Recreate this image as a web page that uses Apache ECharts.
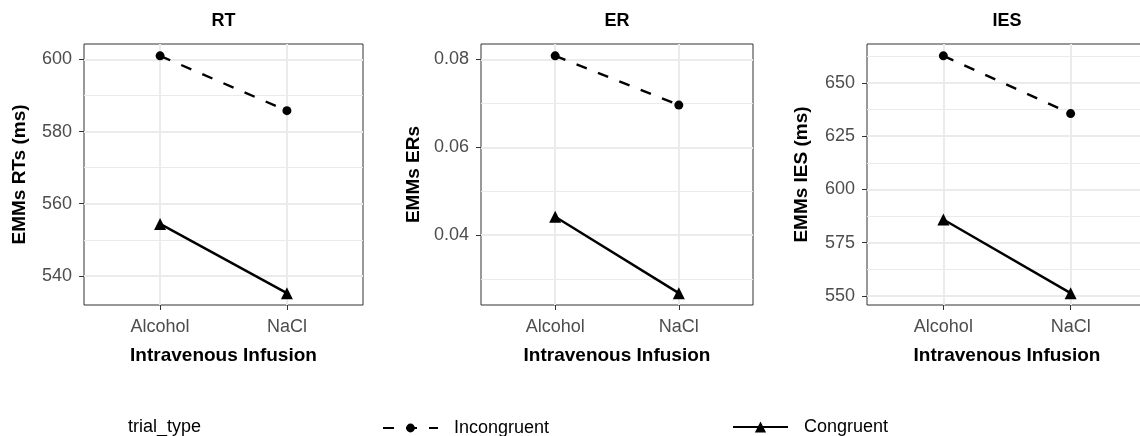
<!DOCTYPE html>
<html><head><meta charset="utf-8">
<script src="https://cdn.jsdelivr.net/npm/echarts@6/dist/echarts.min.js"></script>
<style>html,body{margin:0;padding:0;background:#fff;overflow:hidden;width:1140px;height:436px}#c{width:1160px;height:436px}</style>
</head><body><div id="c"></div>
<script>
// ---- data ----
const categories = ['Alcohol', 'NaCl'];
const panelTitles = ['RT', 'ER', 'IES'];
const yTitles = ['EMMs RTs (ms)', 'EMMs ERs', 'EMMs IES (ms)'];
const seriesNames = ['Incongruent', 'Congruent'];
const incongruentRT = [601.0, 585.8];
const congruentRT = [554.4, 535.2];
const incongruentER = [0.0808, 0.0696];
const congruentER = [0.0442, 0.0268];
const incongruentIES = [662.7, 635.6];
const congruentIES = [585.9, 551.3];
const majorTicksRT = [540, 560, 580, 600];
const minorTicksRT = [550, 570, 590];
const majorTicksER = [0.04, 0.06, 0.08];
const minorTicksER = [0.03, 0.05, 0.07];
const majorTicksIES = [550, 575, 600, 625, 650];
const minorTicksIES = [562.5, 587.5, 612.5, 637.5, 662.5];
const legendTitle = 'trial_type';
const xTitle = 'Intravenous Infusion';

// ---- layout ----
const FONT = "'Liberation Sans', Arial, Helvetica, sans-serif";
const gridLeft = [84, 481, 867];
const gridWidth = [279, 272, 280];
const gridTop = 44, gridHeight = 261;
const yNameGap = [55, 58, 56];
const decimals = [0, 2, 0];

const panels = [
  {inc: incongruentRT, con: congruentRT, major: majorTicksRT, minor: minorTicksRT},
  {inc: incongruentER, con: congruentER, major: majorTicksER, minor: minorTicksER},
  {inc: incongruentIES, con: congruentIES, major: majorTicksIES, minor: minorTicksIES}
];

function ext(p) {
  const all = p.inc.concat(p.con);
  const lo = Math.min.apply(null, all), hi = Math.max.apply(null, all);
  const pad = (hi - lo) * 0.05;
  return [lo - pad, hi + pad];
}

const grid = [], xAxis = [], yAxis = [], series = [], graphic = [];
panels.forEach((p, i) => {
  const [lo, hi] = ext(p);
  grid.push({left: gridLeft[i], width: gridWidth[i], top: gridTop, height: gridHeight,
    show: true, borderColor: '#333333', borderWidth: 1, backgroundColor: '#fff'});
  xAxis.push({
    type: 'value', gridIndex: i, min: 0.4, max: 2.6,
    axisLine: {show: false},
    axisTick: {show: true, length: 5, lineStyle: {color: '#333333', width: 1}, customValues: [1, 2]},
    axisLabel: {customValues: [1, 2], formatter: v => categories[Math.round(v) - 1],
      color: '#4D4D4D', fontSize: 18, fontFamily: FONT, margin: 13},
    splitLine: {show: true, lineStyle: {color: '#EBEBEB', width: 2}},
    name: xTitle, nameLocation: 'middle', nameGap: 41,
    nameTextStyle: {color: '#000', fontSize: 19, fontWeight: 'bold', fontFamily: FONT}
  });
  yAxis.push({
    type: 'value', gridIndex: i, min: lo, max: hi,
    axisLine: {show: false},
    axisTick: {show: true, length: 5, lineStyle: {color: '#333333', width: 1}, customValues: p.major},
    axisLabel: {customValues: p.major, formatter: v => Number(v).toFixed(decimals[i]),
      color: '#4D4D4D', fontSize: 18, fontFamily: FONT, margin: 12},
    splitLine: {show: true, lineStyle: {color: '#EBEBEB', width: 2}},
    name: yTitles[i], nameLocation: 'middle', nameGap: yNameGap[i],
    nameTextStyle: {color: '#000', fontSize: 19, fontWeight: 'bold', fontFamily: FONT}
  });
  graphic.push({type: 'text', x: gridLeft[i] + gridWidth[i] / 2, y: 21,
    style: {text: panelTitles[i], fill: '#000', font: 'bold 18px ' + FONT, align: 'center', verticalAlign: 'middle'}});
});
// minor grid axes
panels.forEach((p, i) => {
  const [lo, hi] = ext(p);
  yAxis.push({
    type: 'value', gridIndex: i, min: lo, max: hi, position: 'left',
    axisLine: {show: false},
    axisTick: {show: false, customValues: p.minor},
    axisLabel: {show: false, customValues: p.minor},
    splitLine: {show: true, lineStyle: {color: '#EBEBEB', width: 1}}
  });
});
panels.forEach((p, i) => {
  series.push({
    name: seriesNames[0], type: 'line', xAxisIndex: i, yAxisIndex: i,
    data: p.inc.map((v, k) => [k + 1, v]),
    symbol: 'circle', symbolSize: 9,
    lineStyle: {color: '#000', width: 2.4, type: [11, 12]},
    itemStyle: {color: '#000'}, z: 3, animation: false
  });
  series.push({
    name: seriesNames[1], type: 'line', xAxisIndex: i, yAxisIndex: i,
    data: p.con.map((v, k) => [k + 1, v]),
    symbol: 'triangle', symbolSize: 12,
    lineStyle: {color: '#000', width: 2.4, type: 'solid'},
    itemStyle: {color: '#000'}, z: 3, animation: false
  });
});
graphic.push({type: 'text', x: 128, y: 427,
  style: {text: legendTitle, fill: '#000', font: '18px ' + FONT, align: 'left', verticalAlign: 'middle'}});

const legendText = {color: '#000', fontSize: 18, fontFamily: FONT, padding: [6, 0, 0, 11]};
const option = {
  animation: false,
  backgroundColor: '#fff',
  grid, xAxis, yAxis, series, graphic,
  legend: [
    {data: [seriesNames[0]], left: 377, top: 414, itemWidth: 55, itemHeight: 11, textStyle: legendText, selectedMode: false},
    {data: [seriesNames[1]], left: 727, top: 413, itemWidth: 55, itemHeight: 14, textStyle: legendText, selectedMode: false}
  ]
};
const chart = echarts.init(document.getElementById('c'), null, {renderer: 'canvas'});
chart.setOption(option);
</script></body></html>
